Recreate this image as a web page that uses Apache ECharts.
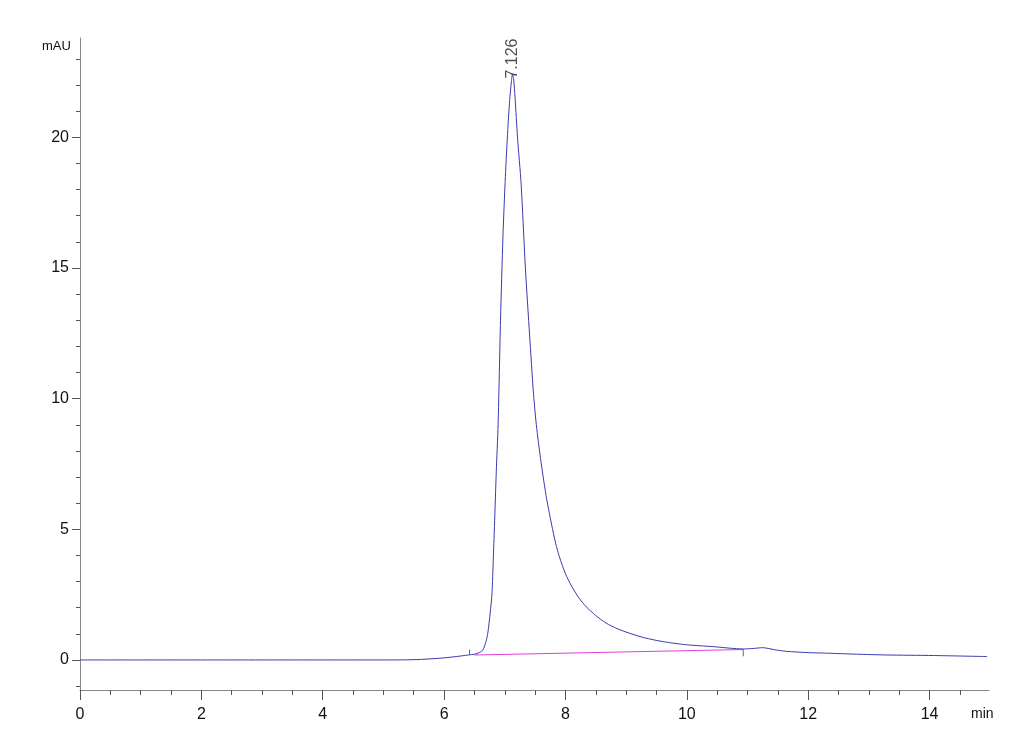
<!DOCTYPE html>
<html>
<head>
<meta charset="utf-8">
<script src="https://cdn.jsdelivr.net/npm/echarts@6/dist/echarts.min.js"></script>
<style>
html,body{margin:0;padding:0;background:#fff;}
#chart{width:1030px;height:755px;}
</style>
</head>
<body>
<div id="chart"></div>
<script>
// Retention time (min)
const timeMin = [0, 1, 2, 3, 4, 5, 5.4, 5.7, 6.0, 6.2, 6.4, 6.5, 6.58, 6.64, 6.69, 6.72, 6.76, 6.79, 6.81, 6.83, 6.86, 6.89, 6.93, 6.97, 7.01, 7.05, 7.08, 7.11, 7.126, 7.145, 7.17, 7.21, 7.27, 7.34, 7.41, 7.47, 7.52, 7.59, 7.68, 7.77, 7.84, 7.9, 8.0, 8.1, 8.22, 8.34, 8.5, 8.67, 8.85, 9.06, 9.3, 9.61, 10.0, 10.43, 10.93, 11.1, 11.25, 11.45, 11.64, 12.0, 12.3, 12.8, 13.3, 14.06, 14.5, 14.95];
// Absorbance (mAU)
const absorbance = [0, 0, 0, 0, 0, 0, 0.005, 0.03, 0.08, 0.13, 0.19, 0.22, 0.28, 0.38, 0.7, 1.02, 1.8, 2.56, 3.8, 5.11, 7.2, 9.0, 13.0, 16.2, 18.5, 20.3, 21.4, 22.15, 22.4, 22.25, 21.5, 20.0, 18.2, 15.0, 12.4, 10.3, 9.0, 7.7, 6.3, 5.2, 4.45, 3.95, 3.3, 2.83, 2.38, 2.04, 1.7, 1.41, 1.2, 1.02, 0.85, 0.7, 0.58, 0.51, 0.42, 0.44, 0.47, 0.39, 0.33, 0.28, 0.26, 0.22, 0.19, 0.17, 0.15, 0.13];
// Integration baseline (start, end)
const baselineTime = [6.5, 10.93];
const baselineValue = [0.19, 0.4];
// Integration event markers
const markerTime = [6.42, 10.93];
const markerFrom = [0.2, 0.4];
const markerTo = [0.4, 0.14];
// Peak annotation
const peakTime = 7.126;
const peakValue = 22.4;
const peakLabel = '7.126';
// Axis ticks
const xMajor = [0, 2, 4, 6, 8, 10, 12, 14];
const xMinor = [0.5, 1, 1.5, 2.5, 3, 3.5, 4.5, 5, 5.5, 6.5, 7, 7.5, 8.5, 9, 9.5, 10.5, 11, 11.5, 12.5, 13, 13.5, 14.5];
const yMajor = [0, 5, 10, 15, 20];
const yMinor = [-1, 1, 2, 3, 4, 6, 7, 8, 9, 11, 12, 13, 14, 16, 17, 18, 19, 21, 22, 23];

const FONT = "'Liberation Sans', Arial, sans-serif";
const chart = echarts.init(document.getElementById('chart'), null, {renderer: 'canvas'});

const traceData = timeMin.map((t, i) => [t, absorbance[i]]);
const baseData = baselineTime.map((t, i) => [t, baselineValue[i]]);

const markerSeries = markerTime.map((t, i) => ({
  type: 'line',
  data: [[t, markerFrom[i]], [t, markerTo[i]]],
  showSymbol: false,
  silent: true,
  lineStyle: {color: '#666', width: 1},
  z: 3
}));

chart.setOption({
  animation: false,
  backgroundColor: '#fff',
  grid: {left: 80, right: 41, top: 38, bottom: 65, containLabel: false},
  xAxis: [
    {
      type: 'value', min: 0, max: 14.98, position: 'bottom',
      axisLine: {show: true, onZero: false, lineStyle: {color: '#888', width: 1}},
      axisTick: {show: true, length: 10, lineStyle: {color: '#555'}, customValues: xMajor},
      axisLabel: {show: true, customValues: xMajor, color: '#111', fontFamily: FONT, fontSize: 16, margin: 17},
      splitLine: {show: false}
    },
    {
      type: 'value', min: 0, max: 14.98, position: 'bottom', offset: 0,
      axisLine: {show: false, onZero: false},
      axisTick: {show: true, length: 5, lineStyle: {color: '#555'}, customValues: xMinor},
      axisLabel: {show: false},
      splitLine: {show: false}
    }
  ],
  yAxis: [
    {
      type: 'value', min: -1.15, max: 23.8, position: 'left',
      axisLine: {show: true, onZero: false, lineStyle: {color: '#888', width: 1}},
      axisTick: {show: true, length: 8, lineStyle: {color: '#555'}, customValues: yMajor},
      axisLabel: {show: true, customValues: yMajor, color: '#111', fontFamily: FONT, fontSize: 16, margin: 11},
      splitLine: {show: false}
    },
    {
      type: 'value', min: -1.15, max: 23.8, position: 'left', offset: 0,
      axisLine: {show: false, onZero: false},
      axisTick: {show: true, length: 4, lineStyle: {color: '#555'}, customValues: yMinor},
      axisLabel: {show: false},
      splitLine: {show: false}
    }
  ],
  graphic: [
    {type: 'text', left: 42, top: 40, style: {text: 'mAU', fill: '#111', font: '13px ' + FONT}},
    {type: 'text', left: 971, top: 707, style: {text: 'min', fill: '#111', font: '14px ' + FONT}}
  ],
  series: [
    {
      type: 'line', data: traceData, showSymbol: false, smooth: 0.25,
      lineStyle: {color: '#3b3bb0', width: 1}, z: 4, silent: true
    },
    {
      type: 'line', data: baseData, showSymbol: false,
      lineStyle: {color: '#e040d8', width: 1.2}, z: 3, silent: true
    },
    ...markerSeries,
    {
      type: 'scatter', data: [[peakTime, peakValue]], symbolSize: 0, silent: true, z: 5,
      label: {
        show: true, formatter: peakLabel, position: 'top', distance: -4,
        rotate: 90, align: 'left', verticalAlign: 'middle',
        color: '#222', fontFamily: FONT, fontSize: 16
      }
    }
  ]
});
</script>
</body>
</html>
